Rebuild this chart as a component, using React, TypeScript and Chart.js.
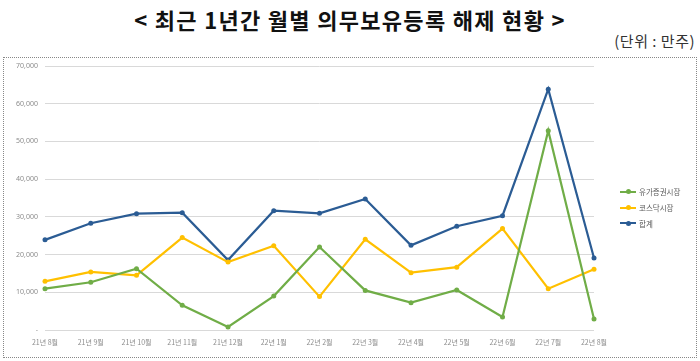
import React, { useEffect, useRef } from "react";
import { Chart, registerables } from "chart.js";
Chart.register(...registerables);

const categories = [
  "21년 8월", "21년 9월", "21년 10월", "21년 11월", "21년 12월",
  "22년 1월", "22년 2월", "22년 3월", "22년 4월", "22년 5월",
  "22년 6월", "22년 7월", "22년 8월",
];
const securities = [10950, 12650, 16250, 6550, 800, 9000, 22000, 10500, 7250, 10600, 3450, 52850, 2900];
const kosdaq = [12900, 15400, 14500, 24500, 18000, 22350, 8850, 24050, 15200, 16650, 26900, 10950, 16100];
const total = [23900, 28300, 30850, 31100, 18550, 31650, 30950, 34750, 22450, 27500, 30300, 63850, 19100];
const seriesNames = ["유가증권시장", "코스닥시장", "합계"];
const seriesColors = ["#70AD47", "#FFC000", "#2B5C94"];
const yMin = 0;
const yMax = 70000;
const yStep = 10000;

const title = "< 최근 1년간 월별 의무보유등록 해제 현황 >";
const unitText = "(단위 : 만주)";

export default function App() {
  const ref = useRef<HTMLCanvasElement | null>(null);

  useEffect(() => {
    document.body.style.margin = "0";
    const ctx = ref.current;
    if (!ctx) return;
    const seriesData = [securities, kosdaq, total];
    const chart = new Chart(ctx, {
      type: "line",
      data: {
        labels: categories,
        datasets: seriesNames.map((name, i) => ({
          label: name,
          data: seriesData[i],
          borderColor: seriesColors[i],
          backgroundColor: seriesColors[i],
          borderWidth: 2.2,
          pointRadius: 2.5,
          pointBorderWidth: 0,
          pointBackgroundColor: seriesColors[i],
          tension: 0,
          fill: false,
        })),
      },
      options: {
        responsive: false,
        animation: false,
        layout: { padding: { top: 66, right: 106, bottom: 0, left: 0 } },
        plugins: {
          legend: { display: false },
          tooltip: { enabled: false },
          title: { display: false },
        },
        scales: {
          x: {
            offset: false,
            grid: { display: false, drawTicks: false },
            border: { display: false },
            ticks: {
              autoSkip: false,
              maxRotation: 0,
              padding: 8,
              color: "#8c8c8c",
              font: { family: "'Noto Sans CJK KR', 'Noto Sans'", size: 7 },
            },
            afterFit: (axis: any) => {
              axis.height = 31;
            },
          },
          y: {
            min: yMin,
            max: yMax,
            ticks: {
              stepSize: yStep,
              padding: 7,
              color: "#8c8c8c",
              font: { family: "'Noto Sans', 'DejaVu Sans'", size: 7 },
              callback: (v: any) => (Number(v) === 0 ? "-" : Number(v).toLocaleString("en-US")),
            },
            grid: { color: "#d9d9d9", lineWidth: 1, drawTicks: false },
            border: { display: false },
            afterFit: (axis: any) => {
              axis.width = 45;
            },
          },
        },
      },
    });
    return () => chart.destroy();
  }, []);

  return (
    <div style={{ position: "relative", width: 700, height: 361, background: "#fff", overflow: "hidden" }}>
      <div
        style={{
          position: "absolute",
          left: 0,
          top: 4,
          width: 700,
          textAlign: "center",
          fontFamily: "'Noto Sans CJK KR', sans-serif",
          fontWeight: 700,
          fontSize: 22,
          letterSpacing: 1.3,
          lineHeight: "30px",
          color: "#111",
        }}
      >
        {title}
      </div>
      <div
        style={{
          position: "absolute",
          right: 5,
          top: 31,
          fontFamily: "'Noto Sans CJK KR', sans-serif",
          fontSize: 15,
          letterSpacing: 0.5,
          lineHeight: "20px",
          color: "#333",
          whiteSpace: "pre",
        }}
      >
        {unitText}
      </div>
      <div
        style={{
          position: "absolute",
          left: 3,
          top: 57,
          width: 692,
          height: 299,
          border: "1px dotted #888",
        }}
      />
      <canvas ref={ref} width={700} height={361} style={{ position: "absolute", left: 0, top: 0 }} />
      <div style={{ position: "absolute", left: 620, top: 184 }}>
        {seriesNames.map((name, i) => (
          <div key={name} style={{ display: "flex", alignItems: "center", height: 15.8 }}>
            <span style={{ position: "relative", display: "inline-block", width: 16, height: 2, background: seriesColors[i] }}>
              <span
                style={{
                  position: "absolute",
                  left: 5.5,
                  top: -1.5,
                  width: 5,
                  height: 5,
                  borderRadius: "50%",
                  background: seriesColors[i],
                }}
              />
            </span>
            <span
              style={{
                marginLeft: 3,
                fontFamily: "'Noto Sans CJK KR', sans-serif",
                fontSize: 7.5,
                color: "#595959",
              }}
            >
              {name}
            </span>
          </div>
        ))}
      </div>
    </div>
  );
}
